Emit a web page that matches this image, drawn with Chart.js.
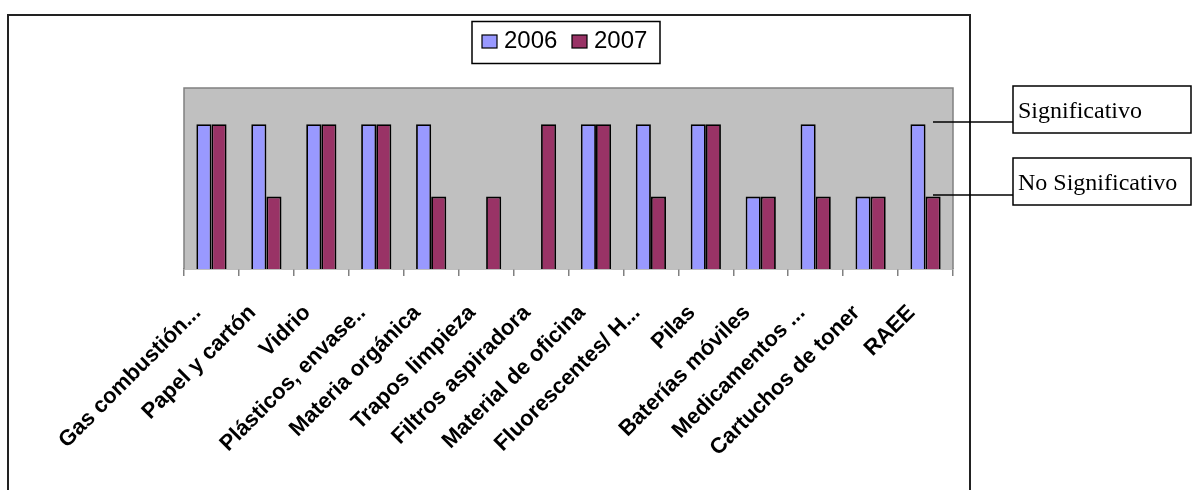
<!DOCTYPE html>
<html>
<head>
<meta charset="utf-8">
<script src="https://cdn.jsdelivr.net/npm/chart.js@4.4.1/dist/chart.umd.min.js"></script>
<style>
    html, body { margin: 0; padding: 0; background: #fff; }
    #wrap { width: 1192px; height: 490px; }
</style>
</head>
<body>
<div id="wrap"><canvas id="canvasResiduos"></canvas></div>
<script>
"use strict";

var categories = [
    'Gas combustión...', 'Papel y cartón', 'Vidrio', 'Plásticos, envase..',
    'Materia orgánica', 'Trapos limpieza', 'Filtros aspiradora', 'Material de oficina',
    'Fluorescentes/ H...', 'Pilas', 'Baterías móviles', 'Medicamentos ...',
    'Cartuchos de toner', 'RAEE'
];
// 2 = Significativo, 1 = No Significativo, 0 = sin dato
var values2006 = [2, 2, 2, 2, 2, 0, 0, 2, 2, 2, 1, 2, 1, 2];
var values2007 = [2, 1, 2, 2, 1, 1, 2, 2, 1, 2, 1, 1, 1, 1];
var seriesNames = ['2006', '2007'];
var levelLabels = ['No Significativo', 'Significativo'];
var levelValues = [1, 2];

var seriesColors = ['#9999FF', '#993366'];

// frame, gray plot area, legend box and the two level boxes
var decorPlugin = {
    id: 'decor',
    beforeDatasetsDraw: function (chart) {
        var ctx = chart.ctx;
        var a = chart.chartArea;
        ctx.save();
        ctx.fillStyle = '#C0C0C0';
        ctx.fillRect(a.left, a.top, a.right - a.left, a.bottom - a.top);
        ctx.strokeStyle = '#808080';
        ctx.lineWidth = 1.5;
        ctx.beginPath();
        ctx.moveTo(a.left, a.bottom);
        ctx.lineTo(a.left, a.top);
        ctx.lineTo(a.right, a.top);
        ctx.lineTo(a.right, a.bottom);
        ctx.stroke();
        ctx.restore();
    },
    afterDraw: function (chart) {
        var ctx = chart.ctx;
        var y = chart.scales.y;
        ctx.save();
        // outer chart frame
        ctx.strokeStyle = '#222';
        ctx.lineWidth = 2;
        ctx.beginPath();
        ctx.moveTo(8, 492);
        ctx.lineTo(8, 15);
        ctx.lineTo(970, 15);
        ctx.lineTo(970, 492);
        ctx.stroke();

        // legend
        ctx.lineWidth = 1.5;
        ctx.strokeStyle = '#000';
        ctx.strokeRect(472, 21.5, 188, 42);
        ctx.font = '24px "Liberation Sans", Arial, sans-serif';
        ctx.textBaseline = 'alphabetic';
        var lx = [482, 572];
        seriesNames.forEach(function (name, i) {
            ctx.fillStyle = seriesColors[i];
            ctx.fillRect(lx[i], 35, 15, 13);
            ctx.lineWidth = 1.2;
            ctx.strokeRect(lx[i], 35, 15, 13);
            ctx.fillStyle = '#000';
            ctx.fillText(name, lx[i] + 22, 48);
        });

        // level boxes with leader lines
        ctx.font = '24px "Liberation Serif", "Times New Roman", serif';
        ctx.lineWidth = 1.5;
        var boxTops = [158, 86];
        levelValues.forEach(function (v, i) {
            var ly = Math.round(y.getPixelForValue(v)) - 2;
            ctx.beginPath();
            ctx.moveTo(933, ly);
            ctx.lineTo(1013, ly);
            ctx.stroke();
            ctx.strokeRect(1013, boxTops[i], 178, 47);
            ctx.fillText(levelLabels[i], 1018, boxTops[i] + 32);
        });
        ctx.restore();
    }
};

var context = document.getElementById('canvasResiduos');
var myChart = new Chart(context, {
    type: 'bar',
    data: {
        labels: categories,
        datasets: [{
            label: seriesNames[0],
            data: values2006,
            backgroundColor: seriesColors[0],
            borderColor: '#000',
            borderWidth: 1.8,
            barPercentage: 1,
            categoryPercentage: 0.55
        }, {
            label: seriesNames[1],
            data: values2007,
            backgroundColor: seriesColors[1],
            borderColor: '#000',
            borderWidth: 1.8,
            barPercentage: 1,
            categoryPercentage: 0.55
        }]
    },
    options: {
        responsive: true,
        maintainAspectRatio: false,
        animation: false,
        layout: {
            padding: { left: 184, right: 239, top: 88, bottom: 0 }
        },
        plugins: {
            legend: { display: false },
            tooltip: { enabled: false }
        },
        scales: {
            x: {
                afterFit: function (scale) { scale.height = 221; },
                grid: {
                    drawOnChartArea: false,
                    tickLength: 7,
                    color: '#808080',
                    lineWidth: 1.5
                },
                border: { display: true, color: '#808080', width: 1.5 },
                ticks: {
                    autoSkip: false,
                    minRotation: 45,
                    maxRotation: 45,
                    padding: 24,
                    labelOffset: -14,
                    color: '#000',
                    font: { family: '"Liberation Sans", Arial, sans-serif', size: 22, weight: 'bold' }
                }
            },
            y: {
                display: false,
                min: 0,
                max: 2.5
            }
        }
    },
    plugins: [decorPlugin]
});
</script>
</body>
</html>
